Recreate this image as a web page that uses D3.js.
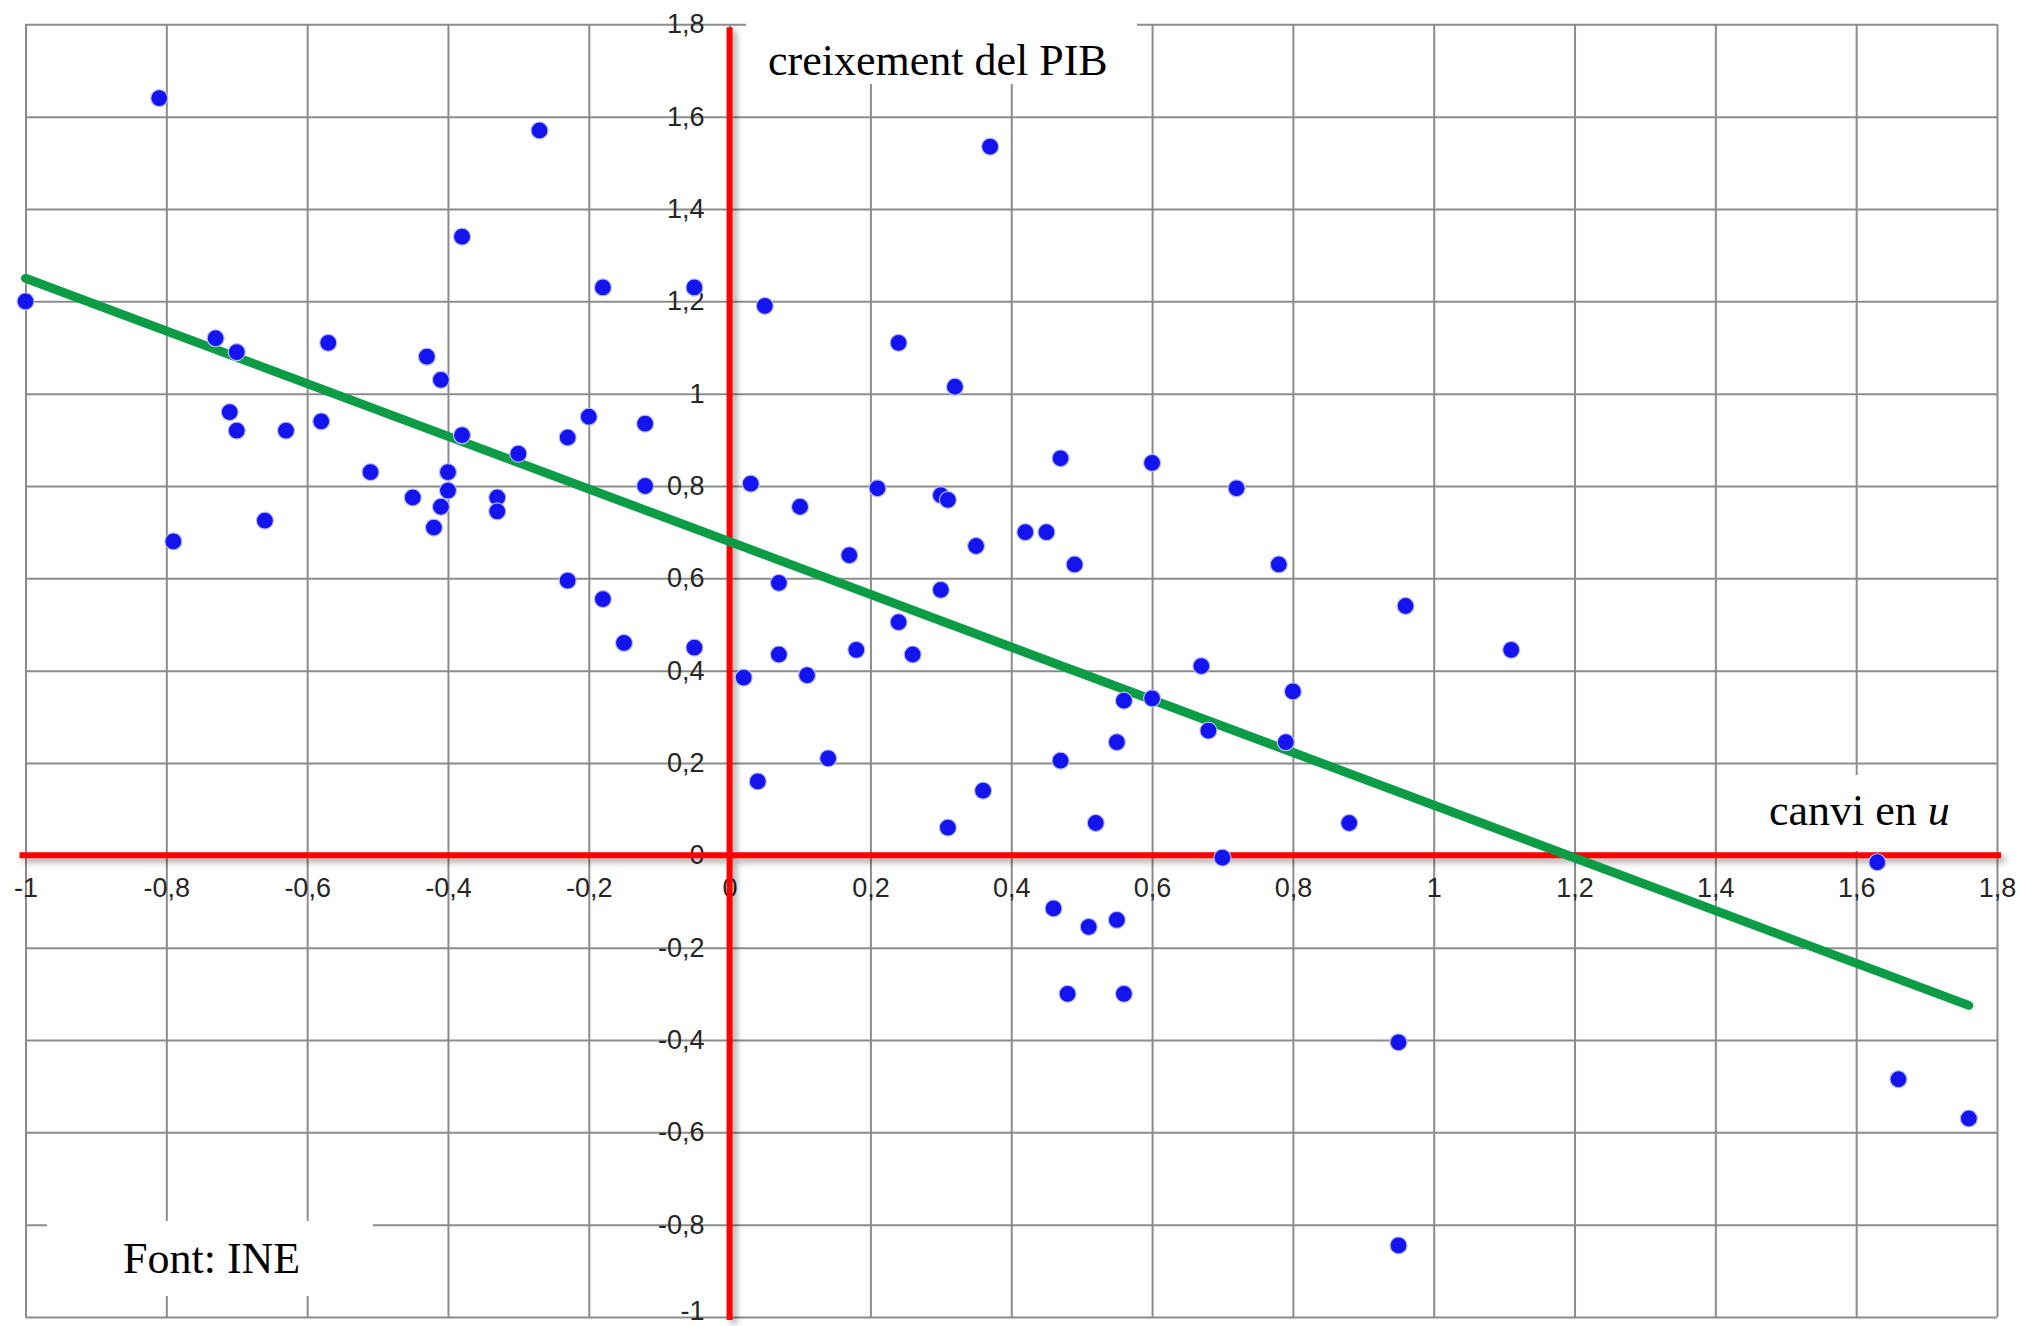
<!DOCTYPE html>
<html>
<head>
<meta charset="utf-8">
<script src="https://cdn.jsdelivr.net/npm/d3@7"></script>
<style>
  html, body { margin: 0; padding: 0; background: #ffffff; }
  svg { display: block; }
</style>
</head>
<body>
<svg id="chart" width="2020" height="1326"></svg>
<script>
// ---- data ----
const unemploymentChange = [
  -0.81, -0.27, -0.38, -1.00, -0.18, -0.05, -0.73, -0.70, -0.57, -0.43,
  -0.41, -0.71, -0.70, -0.63, -0.58, -0.38, -0.30, -0.23, -0.20, -0.12,
  -0.51, -0.40, -0.40, -0.45, -0.41, -0.42, -0.33, -0.33, -0.66, -0.79,
  -0.12, -0.23, -0.18, -0.15, -0.05, 0.03, 0.10, 0.21, 0.30, 0.31,
  0.47, 0.60, 0.72, 0.42, 0.45, 0.35, 0.17, 0.49, 0.78, 0.07,
  0.30, 0.24, 0.18, 0.26, 0.07, 0.02, 0.11, 0.67, 0.80, 0.56,
  0.60, 0.68, 0.55, 0.79, 0.47, 0.14, 0.04, 0.36, 0.31, 0.52,
  0.88, 0.70, 0.96, 1.11, 1.63, 0.46, 0.51, 0.55, 0.48, 0.56,
  0.95, 0.95, 1.66, 1.76, 0.05, 0.24, 0.32, 0.37
];
const gdpGrowth = [
  1.64, 1.57, 1.34, 1.20, 1.23, 1.23, 1.12, 1.09, 1.11, 1.08,
  1.03, 0.96, 0.92, 0.92, 0.94, 0.91, 0.87, 0.905, 0.95, 0.935,
  0.83, 0.83, 0.79, 0.775, 0.755, 0.71, 0.775, 0.745, 0.725, 0.68,
  0.80, 0.595, 0.555, 0.46, 0.45, 0.805, 0.755, 0.795, 0.78, 0.77,
  0.86, 0.85, 0.795, 0.70, 0.70, 0.67, 0.65, 0.63, 0.63, 0.59,
  0.575, 0.505, 0.445, 0.435, 0.435, 0.385, 0.39, 0.41, 0.355, 0.335,
  0.34, 0.27, 0.245, 0.245, 0.205, 0.21, 0.16, 0.14, 0.06, 0.07,
  0.07, -0.005, 0.54, 0.445, -0.015, -0.115, -0.155, -0.14, -0.30, -0.30,
  -0.405, -0.845, -0.485, -0.57, 1.19, 1.11, 1.015, 1.535
];
// fitted trend line end points
const trendX = [-1.00, 1.76];
const trendY = [1.25, -0.325];

const tickValues = [-1, -0.8, -0.6, -0.4, -0.2, 0, 0.2, 0.4, 0.6, 0.8, 1, 1.2, 1.4, 1.6, 1.8];
const tickLabels = ["-1", "-0,8", "-0,6", "-0,4", "-0,2", "0", "0,2", "0,4", "0,6", "0,8", "1", "1,2", "1,4", "1,6", "1,8"];

const titleY = "creixement del PIB";
const titleX = "canvi en ";
const titleXItalic = "u";
const sourceText = "Font: INE";

// ---- layout ----
const W = 2020, H = 1326;
const svg = d3.select("#chart");
const x = d3.scaleLinear().domain([-1, 1.8]).range([25.5, 1997]);
const y = d3.scaleLinear().domain([-1, 1.8]).range([1317, 24.3]);
const labelOf = v => tickLabels[tickValues.findIndex(t => Math.abs(t - v) < 1e-9)];

svg.append("rect").attr("width", W).attr("height", H).attr("fill", "#fff");

const defs = svg.append("defs");
const f = defs.append("filter").attr("id", "shadow")
  .attr("x", "-20%").attr("y", "-20%").attr("width", "140%").attr("height", "140%");
f.append("feDropShadow").attr("dx", 4).attr("dy", 4).attr("stdDeviation", 3)
  .attr("flood-color", "#000").attr("flood-opacity", 0.35);

// grid
const grid = svg.append("g").attr("class", "grid");
grid.append("g").attr("transform", `translate(0,${y(-1)})`)
  .call(d3.axisBottom(x).tickValues(tickValues).tickSize(-(y(-1) - y(1.8))).tickFormat(""))
  .call(g => g.select(".domain").remove());
grid.append("g").attr("transform", `translate(${x(-1)},0)`)
  .call(d3.axisLeft(y).tickValues(tickValues).tickSize(-(x(1.8) - x(-1))).tickFormat(""))
  .call(g => g.select(".domain").remove());
grid.selectAll("line").attr("stroke", "#8c8c8c").attr("stroke-width", 2);

// white label boxes
const boxes = svg.append("g");
boxes.append("rect").attr("x", 746).attr("y", 18).attr("width", 391).attr("height", 66).attr("fill", "#fff");
boxes.append("rect").attr("x", 1745).attr("y", 775).attr("width", 245).attr("height", 76).attr("fill", "#fff");
boxes.append("rect").attr("x", 47).attr("y", 1221).attr("width", 326).attr("height", 75).attr("fill", "#fff");

// tick labels
const tickFont = "'Liberation Sans', Arial, sans-serif";
svg.append("g").attr("transform", `translate(0,${y(0)})`)
  .call(d3.axisBottom(x).tickValues(tickValues).tickSize(0).tickPadding(23).tickFormat(labelOf))
  .call(g => g.select(".domain").remove())
  .selectAll("text").attr("font-family", tickFont).attr("font-size", 27).attr("fill", "#262626");
svg.append("g").attr("transform", `translate(${x(0)},0)`)
  .call(d3.axisLeft(y).tickValues(tickValues).tickSize(0).tickPadding(25).tickFormat(labelOf))
  .call(g => g.select(".domain").remove())
  .selectAll("text").attr("font-family", tickFont).attr("font-size", 27).attr("fill", "#262626")
  .attr("y", d => d === -1 ? -6 : 0);

// red axes
const axes = svg.append("g").attr("filter", "url(#shadow)");
axes.append("line").attr("x1", x(-1) - 6).attr("x2", x(1.8) + 4).attr("y1", y(0)).attr("y2", y(0))
  .attr("stroke", "#ff0000").attr("stroke-width", 6);
axes.append("line").attr("x1", x(0)).attr("x2", x(0)).attr("y1", y(1.8) + 3).attr("y2", y(-1) + 3)
  .attr("stroke", "#ff0000").attr("stroke-width", 6);

// trend line
svg.append("path")
  .datum(trendX.map((v, i) => [v, trendY[i]]))
  .attr("d", d3.line().x(d => x(d[0])).y(d => y(d[1])))
  .attr("fill", "none").attr("stroke", "#0b9c45").attr("stroke-width", 9).attr("stroke-linecap", "round");

// points
svg.append("g").selectAll("circle")
  .data(unemploymentChange.map((v, i) => [v, gdpGrowth[i]]))
  .join("circle")
  .attr("cx", d => x(d[0])).attr("cy", d => y(d[1])).attr("r", 8.5)
  .attr("fill", "#1414ee").attr("stroke", "#b8bcff").attr("stroke-width", 1.2);

// texts
const serif = "'Liberation Serif', 'Times New Roman', serif";
svg.append("text").attr("x", 768).attr("y", 75).attr("font-family", serif).attr("font-size", 44)
  .attr("fill", "#000").text(titleY);
const tx = svg.append("text").attr("x", 1769).attr("y", 825).attr("font-family", serif).attr("font-size", 44).attr("fill", "#000");
tx.append("tspan").text(titleX);
tx.append("tspan").attr("font-style", "italic").text(titleXItalic);
svg.append("text").attr("x", 123).attr("y", 1273).attr("font-family", serif).attr("font-size", 44)
  .attr("fill", "#000").text(sourceText);
</script>
</body>
</html>
